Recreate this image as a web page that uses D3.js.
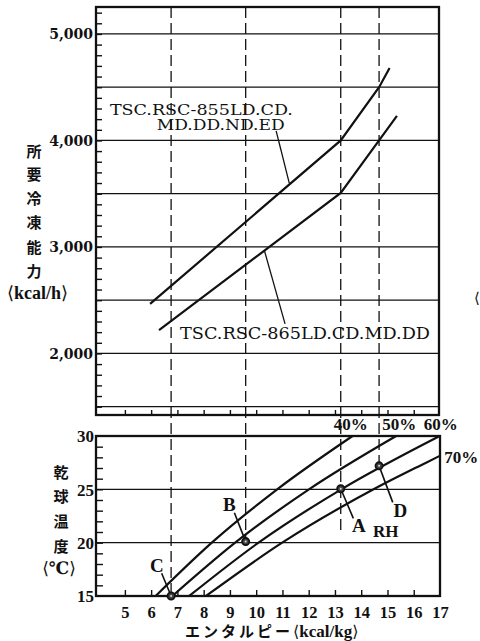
<!DOCTYPE html>
<html><head><meta charset="utf-8">
<script src="https://cdn.jsdelivr.net/npm/d3@7"></script>
<style>body{margin:0;background:#fff} svg{display:block}</style>
</head><body>
<svg id="c" width="480" height="641"></svg>
<script>
// ---------------- data ----------------
const capacityTickValues = [2000, 3000, 4000, 5000];
const capacityTickLabels = ["2,000", "3,000", "4,000", "5,000"];
const capacityGrid = [1500, 2000, 2500, 3000, 3500, 4000, 4500, 5000];
const enthalpyTicks = [5, 6, 7, 8, 9, 10, 11, 12, 13, 14, 15, 16, 17];
const tempTicks = [15, 20, 25, 30];
const tempGrid = [20, 25];

const series855Name = ["TSC.RSC-855LD.CD.", "MD.DD.ND.ED"];
const series855Enthalpy = [5.96, 13.22, 14.68, 15.08];
const series855Capacity = [2465, 4000, 4500, 4680];
const series865Name = "TSC.RSC-865LD.CD.MD.DD";
const series865Enthalpy = [6.30, 13.22, 14.68, 15.36];
const series865Capacity = [2218, 3507, 4000, 4230];

const rhLabels = ["40%", "50%", "60%", "70%"];
const rhTemps = [[15, 20, 25, 30], [15, 20, 25, 30], [15, 20, 25, 30], [15, 20, 25, 27.5, 28.15]];
const rhEnthalpy = [[6.17, 8.31, 10.80, 13.67], [6.81, 9.20, 12.01, 15.33],
                    [7.45, 10.09, 13.24, 16.99], [8.09, 10.99, 14.47, 16.47, 17.0]];

const pointNames = ["C", "B", "A", "D"];
const pointEnthalpy = [6.76, 9.60, 13.22, 14.68];
const pointTemp = [15.0, 20.1, 25.05, 27.2];
const dashedEndTemp = [15.0, 19.2, 21.0, 27.2];

// ---------------- layout ----------------
const svg = d3.select("#c");
const x = d3.scaleLinear().domain([3.9, 17]).range([96, 440]);
const yTop = d3.scaleLinear().domain([1422, 5253]).range([415, 7]);
const yBot = d3.scaleLinear().domain([15, 30]).range([596, 436]);
const ink = "#111";
const serif = "'Liberation Serif','DejaVu Serif',serif";
const cjk = "'Noto Sans CJK JP','Noto Sans CJK SC',sans-serif";

// ---- top chart gridlines ----
svg.append("g").selectAll("line").data(capacityGrid).join("line")
  .attr("x1", x(3.9)).attr("x2", 439).attr("y1", d => yTop(d)).attr("y2", d => yTop(d))
  .attr("stroke", ink).attr("stroke-width", 1.3);

// minor ticks (inward) on left axis
const leftMinor = d3.axisLeft(yTop).tickValues(d3.range(1500, 5201, 100)).tickSize(-6).tickFormat("");
const gLm = svg.append("g").attr("transform", `translate(${x(3.9)},0)`).call(leftMinor);
gLm.select(".domain").remove();
gLm.selectAll("line").attr("stroke", ink).attr("stroke-width", 1.4);

// bottom ticks (inward) of top chart
const topBottom = d3.axisBottom(x).tickValues(enthalpyTicks.slice(0, -1)).tickSize(-5).tickFormat("");
const gTb = svg.append("g").attr("transform", `translate(0,${yTop(1422)})`).call(topBottom);
gTb.select(".domain").remove();
gTb.selectAll("line").attr("stroke", ink).attr("stroke-width", 1.4);

// labels of capacity axis
const leftLab = d3.axisLeft(yTop).tickValues(capacityTickValues).tickSize(0).tickPadding(0)
  .tickFormat((d, i) => capacityTickLabels[i]);
const gLl = svg.append("g").attr("transform", `translate(93,0)`).call(leftLab);
gLl.select(".domain").remove();
gLl.selectAll("text").attr("font-family", "'DejaVu Serif',serif").attr("font-weight", "bold")
  .attr("font-size", 14).attr("fill", ink).attr("dy", "0.36em");

// frame top
svg.append("rect").attr("x", x(3.9)).attr("y", yTop(5253)).attr("width", 439 - x(3.9))
  .attr("height", yTop(1422) - yTop(5253)).attr("fill", "none").attr("stroke", ink).attr("stroke-width", 2.3);

// ---- bottom chart ----
svg.append("g").selectAll("line").data(tempGrid).join("line")
  .attr("x1", x(3.9)).attr("x2", x(17)).attr("y1", d => yBot(d)).attr("y2", d => yBot(d))
  .attr("stroke", ink).attr("stroke-width", 1.3);

const botLeftMinor = d3.axisLeft(yBot).tickValues(d3.range(16, 30, 1)).tickSize(-7).tickFormat("");
const gBm = svg.append("g").attr("transform", `translate(${x(3.9)},0)`).call(botLeftMinor);
gBm.select(".domain").remove();
gBm.selectAll("line").attr("stroke", ink).attr("stroke-width", 1.4);

const botAxis = d3.axisBottom(x).tickValues(enthalpyTicks).tickSize(-6).tickPadding(10);
const gBa = svg.append("g").attr("transform", `translate(0,${yBot(15)})`).call(botAxis);
gBa.select(".domain").remove();
gBa.selectAll("line").attr("stroke", ink).attr("stroke-width", 1.4);
gBa.selectAll("line").filter(d => d === 17).remove();
gBa.selectAll("text").attr("font-family", serif).attr("font-weight", "bold")
  .attr("font-size", 16.5).attr("fill", ink);

const botLab = d3.axisLeft(yBot).tickValues(tempTicks).tickSize(0).tickPadding(0);
const gBl = svg.append("g").attr("transform", `translate(94,0)`).call(botLab);
gBl.select(".domain").remove();
gBl.selectAll("text").attr("font-family", serif).attr("font-weight", "bold")
  .attr("font-size", 17).attr("fill", ink).attr("dy", "0.34em");

svg.append("rect").attr("x", x(3.9)).attr("y", yBot(30)).attr("width", x(17) - x(3.9))
  .attr("height", yBot(15) - yBot(30)).attr("fill", "none").attr("stroke", ink).attr("stroke-width", 2.3);

// ---- dashed verticals ----
svg.append("g").selectAll("line").data(pointEnthalpy).join("line")
  .attr("x1", d => x(d)).attr("x2", d => x(d))
  .attr("y1", yTop(5253)).attr("y2", (d, i) => yBot(dashedEndTemp[i]))
  .attr("stroke", ink).attr("stroke-width", 1.3).attr("stroke-dasharray", "11,5");

// ---- capacity curves ----
const lineTop = d3.line().x(d => x(d[0])).y(d => yTop(d[1]));
[[series855Enthalpy, series855Capacity], [series865Enthalpy, series865Capacity]].forEach(([hs, cs]) => {
  svg.append("path").attr("d", lineTop(hs.map((h, i) => [h, cs[i]])))
    .attr("fill", "none").attr("stroke", ink).attr("stroke-width", 2.2);
});

// labels + leaders top chart
const leader = (x1, y1, x2, y2, w) => svg.append("line").attr("x1", x1).attr("y1", y1)
  .attr("x2", x2).attr("y2", y2).attr("stroke", ink).attr("stroke-width", w || 1.3);
leader(x(10.76), yTop(4089), x(11.26), yTop(3600));
leader(x(10.31), yTop(2969), x(11.10), yTop(2277));

const lblFont = "'DejaVu Serif',serif";
const t855 = svg.append("text").attr("font-family", lblFont).attr("font-size", 15).attr("fill", ink);
t855.append("tspan").attr("x", x(4.43)).attr("y", yTop(4242)).text(series855Name[0])
  .attr("textLength", 183).attr("lengthAdjust", "spacingAndGlyphs");
t855.append("tspan").attr("x", x(6.21)).attr("y", yTop(4095)).text(series855Name[1])
  .attr("textLength", 128).attr("lengthAdjust", "spacingAndGlyphs");
svg.append("text").attr("x", x(7.10)).attr("y", yTop(2133)).text(series865Name)
  .attr("font-family", lblFont).attr("font-size", 16.5).attr("fill", ink)
  .attr("textLength", 250).attr("lengthAdjust", "spacingAndGlyphs");

// ---- RH curves ----
const lineBot = d3.line().x(d => x(d[0])).y(d => yBot(d[1])).curve(d3.curveMonotoneX);
rhEnthalpy.forEach((hs, k) => {
  svg.append("path").attr("d", lineBot(hs.map((h, i) => [h, rhTemps[k][i]])))
    .attr("fill", "none").attr("stroke", ink).attr("stroke-width", 2.2);
});
[[12.95, 30.6], [14.8, 30.6], [16.38, 30.6], [17.16, 27.45]].forEach((p, i) => {
  svg.append("text").attr("x", x(p[0])).attr("y", yBot(p[1])).text(rhLabels[i])
    .attr("font-family", serif).attr("font-weight", "bold").attr("font-size", 17).attr("fill", ink);
});

// point leaders
const leaderData = [[6.40, 17.13], [9.17, 22.81], [13.70, 22.28], [15.20, 23.78]];
leaderData.forEach((d, i) => leader(x(d[0]), yBot(d[1]), x(pointEnthalpy[i]), yBot(pointTemp[i]), 1.6));
// markers
pointEnthalpy.forEach((h, i) => {
  svg.append("circle").attr("cx", x(h)).attr("cy", yBot(pointTemp[i])).attr("r", 3.6)
    .attr("fill", "#444").attr("stroke", ink).attr("stroke-width", 1.8);
  svg.append("circle").attr("cx", x(h)).attr("cy", yBot(pointTemp[i])).attr("r", 1)
    .attr("fill", "#ddd");
});
const nameAt = [[5.96, 17.25], [8.74, 23.0], [13.65, 21.03], [15.23, 22.43]];
nameAt.forEach((d, i) => {
  svg.append("text").attr("x", x(d[0])).attr("y", yBot(d[1])).text(pointNames[i])
    .attr("font-family", serif).attr("font-weight", "bold").attr("font-size", 19).attr("fill", ink);
});
svg.append("text").attr("x", x(14.45)).attr("y", yBot(20.56)).text("RH")
  .attr("font-family", serif).attr("font-weight", "bold").attr("font-size", 17).attr("fill", ink);

// ---- axis titles ----
const yTitle = ["所", "要", "冷", "凍", "能", "力"];
const yTitleY = [150.7, 173.5, 197, 221, 246, 270];
yTitle.forEach((c, i) => svg.append("text").attr("x", 34).attr("y", yTitleY[i]).text(c)
  .attr("font-family", cjk).attr("font-weight", "bold").attr("font-size", 15).attr("fill", ink)
  .attr("text-anchor", "middle").attr("dominant-baseline", "central"));
const u1 = svg.append("text").attr("x", 37.5).attr("y", 299).attr("text-anchor", "middle")
  .attr("font-family", serif).attr("font-weight", "bold").attr("font-size", 18).attr("fill", ink);
u1.append("tspan").text("⟨").attr("font-family", "'DejaVu Sans'").attr("font-weight", "normal");
u1.append("tspan").text("kcal/h");
u1.append("tspan").text("⟩").attr("font-family", "'DejaVu Sans'").attr("font-weight", "normal");

const bTitle = ["乾", "球", "温", "度"];
const bTitleY = [471.7, 495.5, 520, 545];
bTitle.forEach((c, i) => svg.append("text").attr("x", 61).attr("y", bTitleY[i]).text(c)
  .attr("font-family", cjk).attr("font-weight", "bold").attr("font-size", 15).attr("fill", ink)
  .attr("text-anchor", "middle").attr("dominant-baseline", "central"));
const u2 = svg.append("text").attr("x", 59).attr("y", 574).attr("text-anchor", "middle")
  .attr("font-size", 17).attr("fill", ink);
u2.append("tspan").text("⟨").attr("font-family", "'DejaVu Sans'");
u2.append("tspan").text("℃").attr("font-family", "'DejaVu Serif'").attr("font-weight", "bold");
u2.append("tspan").text("⟩").attr("font-family", "'DejaVu Sans'");

const xt = svg.append("text").attr("x", 185).attr("y", 637).attr("fill", ink);
xt.append("tspan").text("エンタルピー").attr("font-family", cjk).attr("font-weight", "bold")
  .attr("font-size", 15).attr("letter-spacing", 3);
xt.append("tspan").text("⟨").attr("font-family", "'DejaVu Sans'").attr("font-size", 16);
xt.append("tspan").text("kcal/kg").attr("font-family", serif).attr("font-weight", "bold").attr("font-size", 17);
xt.append("tspan").text("⟩").attr("font-family", "'DejaVu Sans'").attr("font-size", 16);

// stray bracket at right margin (from scan)
svg.append("text").attr("x", 474).attr("y", 303).text("⟨").attr("font-family", "'DejaVu Sans'")
  .attr("font-size", 15).attr("fill", ink);
</script>
</body></html>
